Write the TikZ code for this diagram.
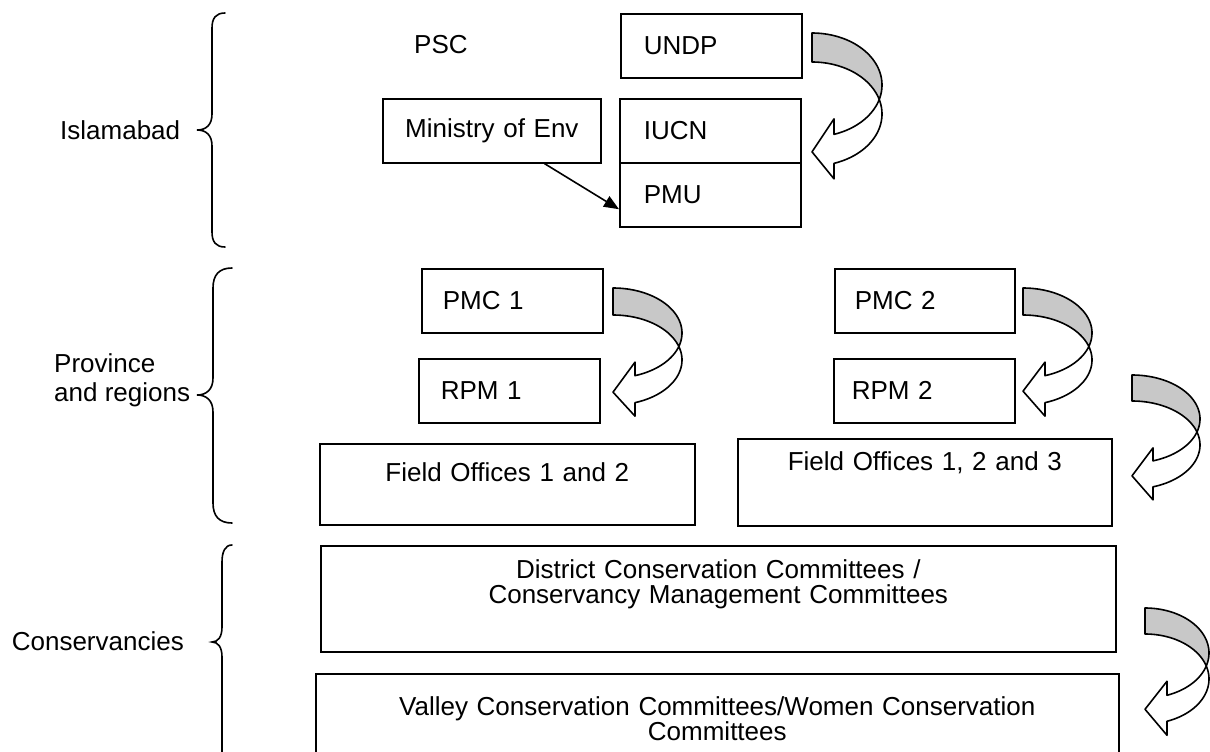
\documentclass[tikz,border=0pt]{standalone}
\usepackage{fontspec}
\setmainfont{Liberation Sans}
\usetikzlibrary{arrows.meta,calc}
\definecolor{bandgray}{RGB}{200,200,200}
% curved left arrow: L T w ry th hl hw tipdy
\newcommand\curvarrow[8]{%
 \pgfmathsetmacro\cvL{#1}%
 \pgfmathsetmacro\cvT{#2}%
 \pgfmathsetmacro\cvW{#3}%
 \pgfmathsetmacro\cvR{#4}%
 \pgfmathsetmacro\cvH{#5}%
 \pgfmathsetmacro\cvHL{#6}%
 \pgfmathsetmacro\cvHW{#7}%
 \pgfmathsetmacro\cvTD{#8}%
 \pgfmathsetmacro\cvYa{\cvT+\cvR}%
 \pgfmathsetmacro\cvYb{\cvYa+\cvH}%
 \pgfmathsetmacro\cvPa{-asin(\cvH/(2*\cvR))}%
 \pgfmathsetmacro\cvPb{asin(\cvH/(2*\cvR))}%
 \pgfmathsetmacro\cvN{-acos(\cvHL/\cvW)}%
 \pgfmathsetmacro\cvMid{\cvYa+\cvR*sin(acos(\cvHL/\cvW))+\cvH/2}%
 \draw[curv, fill=bandgray] plot[domain=90:\cvPa, samples=40, variable=\t] ({\cvL+\cvW*cos(\t)},{\cvYa-\cvR*sin(\t)})
   -- plot[domain=\cvPb:90, samples=40, variable=\t] ({\cvL+\cvW*cos(\t)},{\cvYb-\cvR*sin(\t)}) -- cycle;
 \draw[curv, fill=white] plot[domain=\cvPa:\cvN, samples=30, variable=\t] ({\cvL+\cvW*cos(\t)},{\cvYa-\cvR*sin(\t)})
   -- (\cvL+\cvHL, \cvMid-\cvHW) -- (\cvL, \cvMid+\cvTD) -- (\cvL+\cvHL, \cvMid+\cvHW)
   -- plot[domain=\cvN:\cvPb, samples=30, variable=\t] ({\cvL+\cvW*cos(\t)},{\cvYb-\cvR*sin(\t)}) -- cycle;
}
\begin{document}
\begin{tikzpicture}[x=1pt, y=-1pt,
  every node/.style={font=\fontsize{26pt}{25pt}\selectfont},
  box/.style={draw, line width=1.6pt, anchor=north west, inner sep=0pt},
  curv/.style={line width=1.6pt, line join=round},
  brace/.style={line width=1.6pt, line cap=round},
  lbl/.style={inner sep=0pt, align=left}]
\useasboundingbox (0,0) rectangle (1210,752);
\clip (0,0) rectangle (1210,752);

% left labels
\node[lbl, anchor=west] (lisl) at (60,130) {Islamabad};
\node[lbl, anchor=west] (lprov) at (54,380) {Province\\[4pt]and regions};
\node[lbl, anchor=east] (lcons) at (184,641) {Conservancies};

% braces
\draw[brace] (225,13) .. controls (216,13) and (212,18) .. (212,28) -- (212,114)
  .. controls (212,125) and (206,130) .. (197,130)
  .. controls (206,130) and (212,135) .. (212,146) -- (212,232)
  .. controls (212,242) and (216,247) .. (225,247);
\draw[brace] (232,268) .. controls (219,268) and (213,275) .. (213,288) -- (213,378)
  .. controls (213,390) and (206,395) .. (197,395)
  .. controls (206,395) and (213,400) .. (213,412) -- (213,503)
  .. controls (213,516) and (219,523) .. (232,523);
\draw[brace] (232,545) .. controls (225,545) and (222,552) .. (222,562) -- (222,627)
  .. controls (222,637) and (218,642) .. (212,642)
  .. controls (218,642) and (222,647) .. (222,657) -- (222,762)
  .. controls (222,772) and (225,779) .. (232,779);

% Islamabad level
\node[lbl, anchor=west] (psc) at (414,45) {PSC};
\node[box, minimum height=64pt, text width=135pt, inner xsep=23pt, align=left] (undp) at (620,13) {UNDP};
\node[box, minimum height=64pt, text width=218pt, align=center] (min) at (382,98) {Ministry of Env};
\node[box, minimum height=64pt, text width=133pt, inner xsep=24pt, align=left] (iucn) at (619,98) {IUCN};
\node[box, minimum height=64pt, text width=133pt, inner xsep=24pt, align=left] (pmu) at (619,162) {PMU};
\draw[line width=1.6pt, -{Triangle[length=15pt,width=12pt]}]
  ($(min.south west)!0.74!(min.south east)$) -- ($(pmu.south west)!0.28!(pmu.north west)$);

% Province level
\node[box, minimum height=64pt, text width=139pt, inner xsep=21pt, align=left] (pmc1) at (421,268) {PMC 1};
\node[box, minimum height=64pt, text width=137pt, inner xsep=22pt, align=left] (rpm1) at (418,358) {RPM 1};
\node[box, minimum height=64pt, text width=140pt, inner xsep=20pt, align=left] (pmc2) at (834,268) {PMC 2};
\node[box, minimum height=64pt, text width=145pt, inner xsep=18pt, align=left] (rpm2) at (833,358) {RPM 2};
\node[box, minimum height=81pt, text width=375pt, align=center] (fo1) at (319,443) {Field Offices 1 and 2\\[0pt]~};
\node[box, minimum height=87pt, text width=374pt, align=center] (fo2) at (737,438) {Field Offices 1, 2 and 3\\[18pt]~};

% Conservancies level
\node[box, minimum height=106pt, text width=795pt, align=center] (dcc) at (320,545)
  {District Conservation Committees /\\Conservancy Management Committees\\[10pt]~};
\node[box, minimum height=90pt, text width=803pt, align=center] (vcc) at (315,673)
  {Valley Conservation Committees/Women Conservation\\Committees};

% curved arrows
\curvarrow{812}{33}{70}{52}{29}{22}{30}{3}
\curvarrow{613}{288}{69}{45}{27}{22}{27}{3}
\curvarrow{1023}{288}{69}{45}{27}{22}{27}{2}
\curvarrow{1132}{375}{68}{44}{26}{21}{26}{2}
\curvarrow{1145}{608}{64}{45}{26}{22}{27}{1}
\end{tikzpicture}
\end{document}
